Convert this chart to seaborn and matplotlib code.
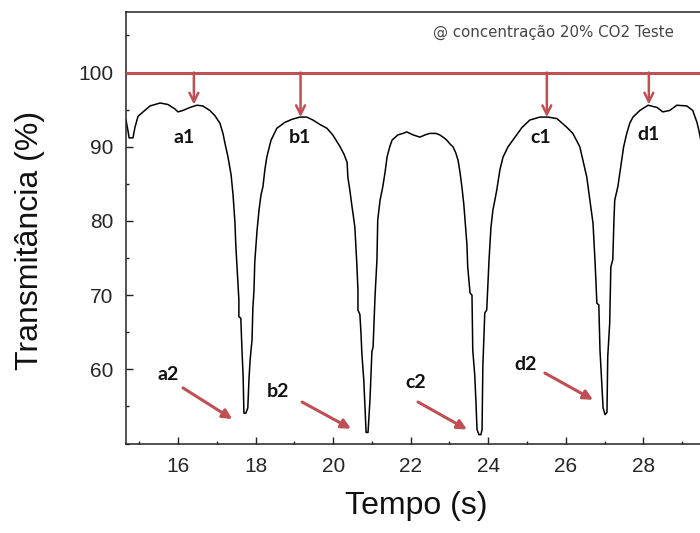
import matplotlib
matplotlib.use("Agg")
import matplotlib.pyplot as plt
from matplotlib.ticker import MultipleLocator
import numpy as np
import pandas as pd
import seaborn as sns

# Transmittance trace (time in seconds, transmittance in %)
tempo_s = [
    14.66, 14.71, 14.74, 14.84, 14.89, 14.97, 15.10, 15.28, 15.54, 15.74,
    15.92, 16.00, 16.13, 16.31, 16.49, 16.64, 16.82, 16.95, 17.08, 17.16,
    17.21, 17.29, 17.37, 17.42, 17.47, 17.49, 17.52, 17.57, 17.57, 17.62,
    17.65, 17.68, 17.70, 17.75, 17.80, 17.83, 17.86, 17.91, 17.93, 17.96,
    17.98, 18.04, 18.09, 18.14, 18.19, 18.24, 18.29, 18.40, 18.55, 18.76,
    18.94, 19.14, 19.32, 19.48, 19.66, 19.84, 19.99, 20.18, 20.28, 20.36,
    20.38, 20.43, 20.48, 20.56, 20.61, 20.64, 20.64, 20.69, 20.72, 20.74,
    20.79, 20.82, 20.85, 20.90, 20.92, 20.95, 21.00, 21.03, 21.08, 21.13,
    21.15, 21.21, 21.28, 21.34, 21.39, 21.46, 21.52, 21.67, 21.80, 21.90,
    22.06, 22.24, 22.37, 22.49, 22.65, 22.75, 22.86, 22.93, 23.01, 23.09,
    23.16, 23.22, 23.27, 23.32, 23.37, 23.40, 23.45, 23.47, 23.53, 23.58,
    23.60, 23.65, 23.68, 23.71, 23.76, 23.81, 23.84, 23.86, 23.91, 23.96,
    24.02, 24.07, 24.12, 24.17, 24.22, 24.30, 24.38, 24.51, 24.69, 24.87,
    25.07, 25.33, 25.54, 25.77, 26.03, 26.18, 26.36, 26.44, 26.54, 26.62,
    26.70, 26.75, 26.80, 26.85, 26.88, 26.93, 26.96, 27.01, 27.06, 27.08,
    27.13, 27.16, 27.21, 27.24, 27.26, 27.34, 27.44, 27.49, 27.57, 27.65,
    27.73, 27.91, 28.12, 28.35, 28.50, 28.68, 28.86, 29.12, 29.27, 29.38,
    29.43, 29.55,
]
transmitancia = [
    93.6, 92.2, 91.2, 91.2, 92.6, 94.1, 94.7, 95.5, 95.9, 95.7,
    95.1, 94.7, 94.9, 95.3, 95.6, 95.5, 94.9, 94.2, 93.2, 91.8,
    90.5, 88.6, 86.2, 83.5, 79.7, 76.8, 74.1, 69.4, 67.1, 66.9,
    62.6, 59.0, 54.1, 54.1, 54.8, 58.6, 61.3, 64.0, 68.2, 70.7,
    74.5, 78.8, 81.5, 83.5, 84.6, 86.9, 88.6, 90.9, 92.5, 93.3,
    93.7, 94.0, 94.0, 93.6, 93.0, 92.5, 91.6, 90.0, 89.0, 87.9,
    85.9, 84.2, 82.2, 79.2, 74.3, 70.7, 68.0, 67.4, 64.7, 62.2,
    58.6, 55.0, 51.5, 51.5, 53.2, 55.9, 62.4, 63.0, 69.8, 74.8,
    80.1, 82.8, 84.6, 86.6, 88.6, 90.0, 90.9, 91.6, 91.8, 92.0,
    91.6, 91.3, 91.6, 91.8, 91.8, 91.6, 91.2, 90.9, 90.4, 90.0,
    89.2, 88.2, 86.6, 84.6, 82.2, 80.1, 76.8, 73.8, 70.3, 70.0,
    62.6, 59.3, 55.9, 51.9, 51.2, 51.2, 51.9, 60.4, 67.6, 68.0,
    74.8, 79.2, 81.5, 82.8, 84.2, 86.9, 88.6, 90.0, 91.3, 92.6,
    93.6, 94.0, 94.0, 93.8, 92.6, 91.8, 90.0, 88.2, 85.9, 82.8,
    79.7, 74.8, 68.9, 68.7, 62.6, 57.7, 54.8, 53.9, 54.2, 61.7,
    66.2, 73.8, 74.8, 80.1, 82.8, 84.6, 88.2, 90.0, 91.8, 93.2,
    94.0, 94.9, 95.6, 95.3, 94.7, 94.9, 95.6, 95.5, 94.9, 93.3,
    92.2, 89.0,
]

# Reference level and marked points
referencia = 100
picos_rotulos = ["a1", "b1", "c1", "d1"]
picos_x = [16.41, 19.16, 25.51, 28.14]
picos_y = [95.7, 94.0, 94.0, 95.7]
picos_texto_x = [16.15, 19.14, 25.36, 28.14]
picos_texto_y = [91.3, 91.3, 91.3, 91.6]

vales_rotulos = ["a2", "b2", "c2", "d2"]
vales_texto_x = [15.74, 18.58, 22.12, 24.97]
vales_texto_y = [59.3, 57.0, 58.2, 60.6]
vales_seta_ini_x = [16.13, 19.20, 22.19, 25.46]
vales_seta_ini_y = [57.5, 55.6, 55.6, 59.5]
vales_seta_fim_x = [17.40, 20.46, 23.45, 26.70]
vales_seta_fim_y = [53.3, 52.0, 51.9, 55.9]

x_ticks = [16, 18, 20, 22, 24, 26, 28]
y_ticks = [60, 70, 80, 90, 100]

sns.set_theme(style="ticks")
plt.rcParams["font.family"] = ["Liberation Sans", "DejaVu Sans"]

VERMELHO = "#BF4F55"

fig = plt.figure(figsize=(7.0, 5.33), dpi=100)
ax = fig.add_axes([0.18, 0.1664, 0.85, 0.8116])

df = pd.DataFrame({"Tempo": tempo_s, "T": transmitancia})
sns.lineplot(data=df, x="Tempo", y="T", ax=ax, color="black",
             linewidth=1.1, estimator=None, sort=False)

ax.axhline(referencia, color=VERMELHO, linewidth=2.2, zorder=3)

for rot, px, py, tx, ty in zip(picos_rotulos, picos_x, picos_y,
                               picos_texto_x, picos_texto_y):
    ax.annotate("", xy=(px, py), xytext=(px, referencia),
                arrowprops=dict(arrowstyle="->", color=VERMELHO, lw=1.8,
                                mutation_scale=16, shrinkA=0, shrinkB=0))
    ax.text(tx, ty, rot, ha="center", va="center", fontsize=14,
            fontweight="bold", family="Lato", color="#111111")

for rot, tx, ty, x0, y0, x1, y1 in zip(vales_rotulos, vales_texto_x,
                                       vales_texto_y, vales_seta_ini_x,
                                       vales_seta_ini_y, vales_seta_fim_x,
                                       vales_seta_fim_y):
    ax.annotate("", xy=(x1, y1), xytext=(x0, y0),
                arrowprops=dict(arrowstyle="-|>", color=VERMELHO, lw=2.2,
                                mutation_scale=14, shrinkA=0, shrinkB=0))
    ax.text(tx, ty, rot, ha="center", va="center", fontsize=14,
            fontweight="bold", family="Lato", color="#111111")

ax.text(22.57, 105.4, "@ concentração 20% CO2 Teste", ha="left",
        va="center", fontsize=10.8, family="DejaVu Sans", color="#444444")

ax.set_xlim(14.66, 30.0)
ax.set_ylim(49.9, 108.2)
ax.set_xticks(x_ticks)
ax.set_yticks(y_ticks)
ax.xaxis.set_minor_locator(MultipleLocator(1))
ax.yaxis.set_minor_locator(MultipleLocator(5))
ax.tick_params(which="major", direction="in", length=5, width=1.0,
               labelsize=15, labelcolor="#262626", color="#222222", pad=9)
ax.tick_params(which="minor", direction="in", length=2.5, width=1.0,
               color="#222222")
for s in ax.spines.values():
    s.set_linewidth(1.1)
    s.set_color("#222222")

ax.set_xlabel("")
ax.set_ylabel("")
fig.text(416 / 700, 1 - 506 / 533, "Tempo (s)", ha="center", va="center",
         fontsize=23, color="#111111")
fig.text(30 / 700, 1 - 240 / 533, "Transmitância (%)", rotation=90,
         ha="center", va="center", fontsize=23, color="#111111")

fig.savefig("out.png", dpi=100)
